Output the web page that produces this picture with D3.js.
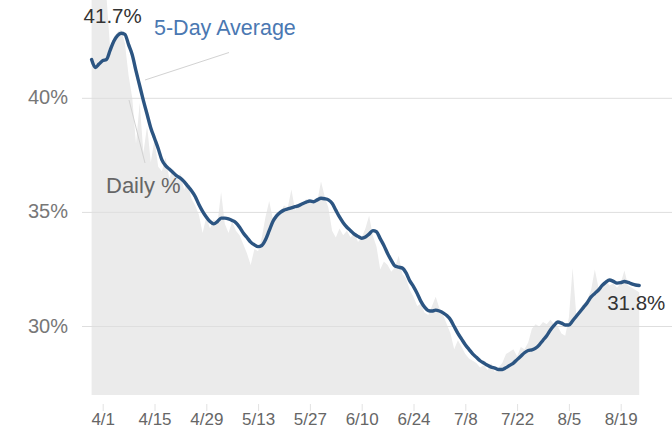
<!DOCTYPE html>
<html>
<head>
<meta charset="utf-8">
<script src="https://cdn.jsdelivr.net/npm/d3@7"></script>
<style>
  html, body { margin: 0; padding: 0; background: #fff; }
  svg text { font-family: "Liberation Sans", Arial, sans-serif; }
</style>
</head>
<body>
<div id="chart"></div>
<script>
// first day of the series, one value per day after it
const startDay = "2020-03-29";

const dailyPct = [
  44.5, 44.6, 44.5, 44.4, 44.5, 42.2, 42.7, 42.9, 43.0, 42.4, 41.0, 40.0, 38.0,
  39.8, 37.6, 38.8, 37.2, 38.2, 37.0, 36.8, 37.4, 36.5, 36.9,
  36.4, 36.7, 36.0, 36.3, 35.6, 35.3, 34.9, 34.1, 34.8, 34.3,
  34.7, 34.5, 35.9, 34.5, 34.1, 34.6, 34.2, 34.0, 33.6, 33.2,
  32.7, 33.4, 33.3, 33.9, 34.8, 35.5, 34.7, 34.9, 35.0, 35.3,
  35.2, 36.0, 35.1, 35.4, 35.3, 35.6, 35.4, 35.5, 35.5, 36.35,
  35.7, 35.2, 34.2, 33.9, 34.3, 34.0, 34.2, 33.9, 34.1, 33.7,
  33.9, 34.3, 34.85, 34.0, 33.5, 32.5, 32.85, 32.7, 32.4, 32.6,
  33.1, 32.3, 32.1, 31.6, 31.3, 30.9, 31.0, 30.6, 30.5, 30.9,
  31.3, 30.8, 30.5, 30.1, 29.7, 29.0, 29.4, 29.1, 28.8, 28.6,
  28.5, 28.4, 28.2, 28.3, 28.1, 28.4, 28.0, 28.2, 28.4, 28.8,
  28.9, 29.0, 28.7, 29.1, 29.0, 29.3, 29.9, 30.1, 30.0, 30.2,
  30.1, 30.3, 30.1, 30.0, 29.7, 29.6, 30.4, 32.56, 30.5, 30.8,
  31.0, 31.2, 31.6, 32.5, 31.7, 31.9, 32.0, 31.8, 31.9, 31.7,
  31.9, 32.45, 31.8, 31.7, 31.6, 31.5
];

const avgPct = [
  41.7, 41.35, 41.5, 41.65, 41.7, 42.1, 42.5, 42.75, 42.85, 42.8, 42.35, 41.9, 41.2,
  40.55, 39.9, 39.3, 38.7, 38.25, 37.8, 37.3, 37.05, 36.9, 36.75,
  36.6, 36.5, 36.35, 36.15, 35.95, 35.7, 35.35, 35.05, 34.8, 34.6,
  34.5, 34.6, 34.75, 34.75, 34.72, 34.65, 34.55, 34.35, 34.1, 33.9,
  33.7, 33.58, 33.5, 33.55, 33.8, 34.2, 34.6, 34.85, 35.0, 35.1,
  35.15, 35.2, 35.25, 35.3, 35.38, 35.45, 35.5, 35.47, 35.55, 35.62,
  35.6, 35.55, 35.4, 35.1, 34.8, 34.55, 34.35, 34.2, 34.05, 33.95,
  33.87, 33.92, 34.05, 34.2, 34.15, 33.85, 33.55, 33.2, 32.9, 32.65,
  32.6, 32.56, 32.35, 32.0, 31.75, 31.45, 31.1, 30.85, 30.7, 30.68,
  30.72, 30.68, 30.6, 30.48, 30.3, 30.0, 29.7, 29.45, 29.2, 29.0,
  28.8, 28.65, 28.5, 28.4, 28.3, 28.22, 28.18, 28.12, 28.12, 28.2,
  28.3, 28.4, 28.55, 28.7, 28.85, 28.95, 28.98, 29.05, 29.2, 29.4,
  29.6, 29.85, 30.05, 30.2, 30.15, 30.07, 30.07, 30.25, 30.45, 30.65,
  30.85, 31.05, 31.3, 31.45, 31.6, 31.8, 31.95, 32.04, 31.98, 31.9,
  31.92, 31.97, 31.93, 31.87, 31.82, 31.8
];

const xTicks = ["2020-04-01", "2020-04-15", "2020-04-29", "2020-05-13", "2020-05-27", "2020-06-10",
                "2020-06-24", "2020-07-08", "2020-07-22", "2020-08-05", "2020-08-19"];
const yTicks = [30, 35, 40];

const w = 672;
const h = 428;

const parseDay = d3.utcParse("%Y-%m-%d");
const start = parseDay(startDay);
const data = dailyPct.map((v, i) => ({
  date: d3.utcDay.offset(start, i),
  daily: v,
  avg: avgPct[i]
}));

const xScale = d3.scaleUtc()
  .domain([data[0].date, data[data.length - 1].date])
  .range([91.6, 639.2]);

const yScale = d3.scaleLinear()
  .domain([27, 40])
  .range([395, 98.3]);

const svg = d3.select("#chart")
  .append("svg")
  .attr("width", w)
  .attr("height", h);

const defs = svg.append("defs");
defs.append("clipPath").attr("id", "plot-clip")
  .append("rect").attr("x", 0).attr("y", 0).attr("width", w).attr("height", 395);

// daily % as grey area
const area = d3.area()
  .x(d => xScale(d.date))
  .y0(yScale(27))
  .y1(d => yScale(d.daily));

svg.append("path")
  .datum(data)
  .attr("clip-path", "url(#plot-clip)")
  .attr("d", area)
  .attr("fill", "#ebebeb");

// gridlines
svg.append("g")
  .selectAll("line")
  .data(yTicks)
  .enter()
  .append("line")
  .attr("x1", 82)
  .attr("x2", w)
  .attr("y1", d => yScale(d))
  .attr("y2", d => yScale(d))
  .attr("stroke", "#dedede")
  .attr("stroke-width", 1);

svg.append("g")
  .selectAll("text")
  .data(yTicks)
  .enter()
  .append("text")
  .attr("x", 68)
  .attr("y", d => yScale(d))
  .attr("dy", "0.3em")
  .attr("text-anchor", "end")
  .style("font-size", "20px")
  .style("fill", "#777")
  .text(d => d + "%");

// x axis
const xAxis = d3.axisBottom(xScale)
  .tickValues(xTicks.map(parseDay))
  .tickFormat(d3.utcFormat("%-m/%-d"))
  .tickSize(7)
  .tickPadding(2);

const gx = svg.append("g")
  .attr("transform", "translate(0,404)")
  .call(xAxis);
gx.select(".domain").remove();
gx.selectAll(".tick line").attr("stroke", "#e2e2e2");
gx.selectAll(".tick text")
  .style("font-size", "17px")
  .style("fill", "#666")
  .style("font-family", "'Liberation Sans', Arial, sans-serif");

// 5-day average line
const line = d3.line()
  .x(d => xScale(d.date))
  .y(d => yScale(d.avg))
  .curve(d3.curveMonotoneX);

svg.append("path")
  .datum(data)
  .attr("d", line)
  .attr("fill", "none")
  .attr("stroke", "#2c5582")
  .attr("stroke-width", 3.4)
  .attr("stroke-linejoin", "round")
  .attr("stroke-linecap", "round");

// annotations
svg.append("line")
  .attr("x1", 229).attr("y1", 52.5)
  .attr("x2", 145).attr("y2", 80)
  .attr("stroke", "#d2d2d2").attr("stroke-width", 1);

svg.append("line")
  .attr("x1", 145).attr("y1", 163)
  .attr("x2", 129).attr("y2", 100)
  .attr("stroke", "#d2d2d2").attr("stroke-width", 1);

svg.append("text")
  .attr("x", 154).attr("y", 34.5)
  .style("font-size", "21.5px")
  .style("fill", "#4a78b2")
  .text("5-Day Average");

svg.append("text")
  .attr("x", 106).attr("y", 193)
  .style("font-size", "22px")
  .style("fill", "#666")
  .text("Daily %");

const first = data[0];
const last = data[data.length - 1];

svg.append("text")
  .attr("x", xScale(first.date) - 8).attr("y", 23)
  .style("font-size", "20.5px")
  .style("fill", "#333")
  .text(d3.format(".1f")(first.avg) + "%");

svg.append("text")
  .attr("x", xScale(last.date) - 32).attr("y", 310)
  .style("font-size", "20.5px")
  .style("fill", "#333")
  .text(d3.format(".1f")(last.avg) + "%");
</script>
</body>
</html>
